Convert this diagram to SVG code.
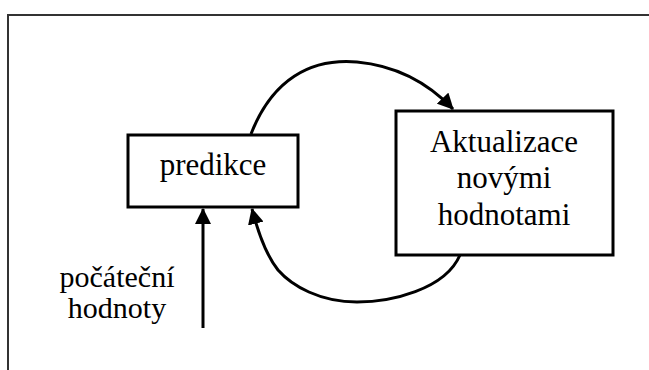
<svg xmlns="http://www.w3.org/2000/svg" width="649" height="370" viewBox="0 0 649 370">
<defs>
<style>
.frame{fill:none;stroke:#333;stroke-width:2}
.box{fill:#fff;stroke:#000;stroke-width:3}
.lbl{font-family:"Liberation Serif","Times New Roman",serif;font-size:31px;fill:#000;text-anchor:middle}
.sm{font-size:30px}
.con{fill:none;stroke:#000;stroke-width:3}
</style>
<marker id="ah" viewBox="0 0 16 16" refX="15" refY="8" markerWidth="16" markerHeight="16" markerUnits="userSpaceOnUse" orient="auto">
<path d="M0,0 L16,8 L0,16 Z" fill="#000"/>
</marker>
</defs>
<rect width="649" height="370" fill="#fff"/>
<path class="frame" d="M8,370 V15 H649"/>
<g id="predikce">
<rect class="box" x="128" y="135" width="170" height="72"/>
<text class="lbl" x="213" y="175">predikce</text>
</g>
<g id="aktualizace">
<rect class="box" x="396" y="111" width="217" height="144"/>
<text class="lbl" x="504" y="152">Aktualizace</text>
<text class="lbl" x="504" y="188">novými</text>
<text class="lbl" x="504" y="225">hodnotami</text>
</g>
<g id="pocatecni">
<text class="lbl sm" x="117" y="287">počáteční</text>
<text class="lbl sm" x="117" y="318">hodnoty</text>
</g>
<g id="connectors">
<path class="con" marker-end="url(#ah)" d="M251,134 C272,80 310,58 357,62 C400,66 430,85 453,109"/>
<path class="con" marker-end="url(#ah)" d="M460,255 C445,290 390,302 357,302 C320,302 292,286 278,270 C266,255 258,232 252,209"/>
<path class="con" marker-end="url(#ah)" d="M203,328 V209"/>
</g>
</svg>
